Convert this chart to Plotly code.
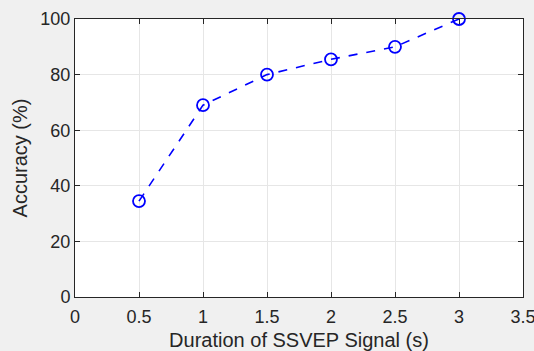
import plotly.graph_objects as go

durations = [0.5, 1, 1.5, 2, 2.5, 3]
accuracy = [34.5, 69, 80, 85.5, 90, 100]
x_ticks = [0, 0.5, 1, 1.5, 2, 2.5, 3, 3.5]
x_tick_labels = ["0", "0.5", "1", "1.5", "2", "2.5", "3", "3.5"]
y_ticks = [0, 20, 40, 60, 80, 100]

FONT = "Liberation Sans, Arial"

fig = go.Figure()
fig.add_trace(go.Scatter(
    x=durations, y=accuracy, mode="lines+markers",
    line=dict(color="#0000ff", width=1.6, dash="dash"),
    marker=dict(symbol="circle-open", size=12, color="#0000ff", line=dict(width=1.8, color="#0000ff")),
    cliponaxis=False,
))

axis_common = dict(
    showline=True, linecolor="#262626", linewidth=1, mirror="ticks",
    ticks="inside", ticklen=5, tickcolor="#262626",
    showgrid=True, gridcolor="#e6e6e6", gridwidth=1, zeroline=False,
    tickfont=dict(family=FONT, size=18, color="#262626"),
    automargin=False,
)
fig.update_xaxes(range=[0, 3.5], tickvals=x_ticks, ticktext=x_tick_labels,
                 ticklabeloverflow="allow", ticklabelstandoff=3,
                 title=dict(text="Duration of SSVEP Signal (s)", standoff=9,
                            font=dict(family=FONT, size=20, color="#262626")),
                 **axis_common)
fig.update_yaxes(range=[0, 100], tickvals=y_ticks,
                 title=dict(text="Accuracy (%)", standoff=7,
                            font=dict(family=FONT, size=20, color="#262626")),
                 **axis_common)
fig.update_layout(
    width=534, height=351,
    paper_bgcolor="#f0f0f0", plot_bgcolor="#ffffff",
    margin=dict(l=75, r=11, t=19, b=54, autoexpand=False),
    showlegend=False,
)
fig.write_html(
    "out.html",
    config={"displayModeBar": False},
    post_script="document.body.style.margin='0';document.body.style.background='#f0f0f0';document.body.style.overflow='hidden';",
)
